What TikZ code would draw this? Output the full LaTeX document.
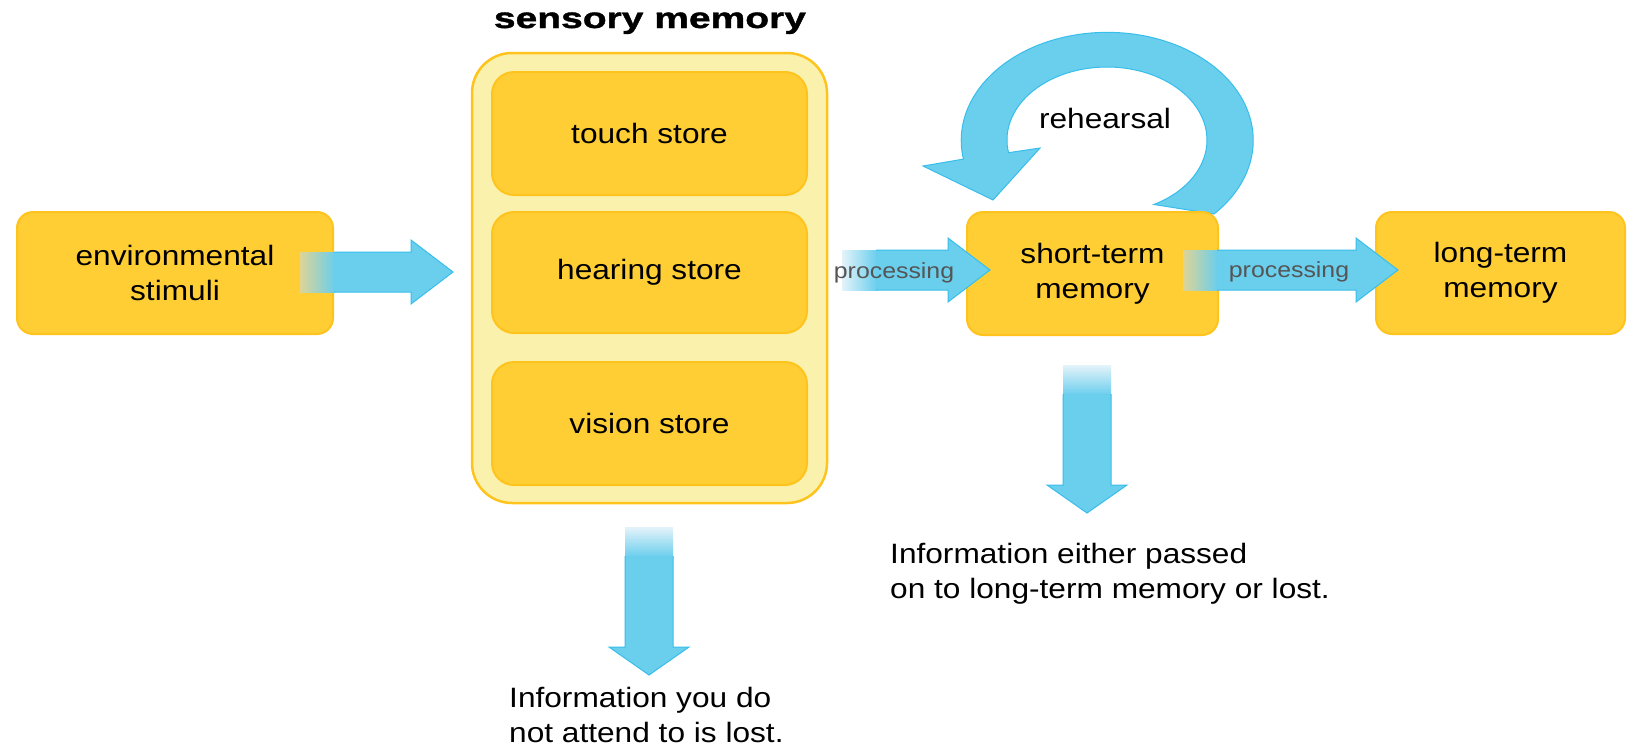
\documentclass[tikz,border=0pt]{standalone}
\usepackage{fontspec}
\setmainfont{Liberation Sans}[FakeStretch=1.13]
\newfontfamily\titlefont{Liberation Sans}[FakeStretch=1.13, FakeBold=1.2, BoldFont={* Bold}]
\usepackage{graphicx}
\usetikzlibrary{calc}
\definecolor{boxyellow}{RGB}{255,206,52}
\definecolor{boxedge}{RGB}{255,195,30}
\definecolor{paleyellow}{RGB}{250,242,172}
\definecolor{arrowblue}{RGB}{106,206,237}
\definecolor{arrowedge}{RGB}{55,190,235}
\definecolor{fadetan}{RGB}{222,212,150}
\definecolor{fadewhite}{RGB}{228,243,250}
\definecolor{labelgray}{RGB}{85,85,85}
\newcommand{\hblockarrow}[3]{%
  \shade[left color=#3, right color=arrowblue] ($(#1)+(0,-20)$) rectangle ($(#1)+(35,20)$);
  \filldraw[blockarrow] ($(#1)+(34,-20)$) -- ($(#2)+(-42,-20)$) -- ($(#2)+(-42,-32)$) -- (#2) -- ($(#2)+(-42,32)$) -- ($(#2)+(-42,20)$) -- ($(#1)+(34,20)$);
}
\newcommand{\vblockarrow}[3]{%
  \shade[top color=#3, bottom color=arrowblue] ($(#1)+(-24,0)$) rectangle ($(#1)+(24,30)$);
  \filldraw[blockarrow] ($(#1)+(-24,29)$) -- ($(#2)+(-24,-28)$) -- ($(#2)+(-40,-28)$) -- (#2) -- ($(#2)+(40,-28)$) -- ($(#2)+(24,-28)$) -- ($(#1)+(24,29)$);
}
\begin{document}
\begin{tikzpicture}[x=1pt,y=-1pt,
  box/.style={draw=boxedge, line width=2pt, fill=boxyellow, rounded corners=16pt, align=center, font=\fontsize{28}{35}\selectfont, inner sep=0pt},
  store/.style={box, rounded corners=22pt, minimum width=315pt},
  blockarrow/.style={fill=arrowblue, draw=arrowedge, line width=1pt, line join=miter},
  txt/.style={font=\fontsize{28}{35}\selectfont, align=left, inner sep=0pt},
  proc/.style={font=\fontsize{22}{26}\selectfont, text=labelgray, inner sep=0pt}
]
\useasboundingbox[fill=white] (0,0) rectangle (1635,745);

% boxes
\node[box, minimum width=316pt, minimum height=122pt] (env) at (175,273) {environmental\\stimuli};
\node[draw=boxedge, line width=2.5pt, fill=paleyellow, rounded corners=40pt, minimum width=355pt, minimum height=450pt, inner sep=0pt] (sens) at (649.5,278) {};
\node[anchor=base, font=\titlefont\bfseries\fontsize{29}{35}\selectfont, inner sep=0pt] (senstitle) at (650,28) {\scalebox{1.19}[1]{sensory memory}};
\node[store, minimum height=123pt] (touch) at (649.5,133.5) {touch store};
\node[store, minimum height=121pt] (hearing) at (649.5,272.5) {hearing store};
\node[store, minimum height=123pt] (vision) at (649.5,423.5) {vision store};

% rehearsal loop
\filldraw[blockarrow] (1214,214) arc[start angle=-43, end angle=190, x radius=146pt, y radius=108pt]
  -- (923,166) -- (993,200) -- (1040,148) -- (1008.5,152.7)
  arc[start angle=190, end angle=-62, x radius=100pt, y radius=73pt] -- cycle;
\node[txt, anchor=base] (reh) at (1105,128) {rehearsal};

\node[box, minimum width=251pt, minimum height=123pt] (stm) at (1092.5,273.5) {short-term\\memory};
\node[box, minimum width=249pt, minimum height=122pt] (ltm) at (1500.5,273) {long-term\\memory};

% arrow anchor points
\coordinate (a1s) at (300,272);
\coordinate (a1e) at (453,272);
\coordinate (a2s) at (842,270);
\coordinate (a2e) at (990,270);
\coordinate (a3s) at (1183,270);
\coordinate (a3e) at (1398,270);
\coordinate (d1s) at (649,527);
\coordinate (d1e) at (649,675);
\coordinate (d2s) at (1087,365);
\coordinate (d2e) at (1087,513);

\hblockarrow{a1s}{a1e}{fadetan}
\hblockarrow{a2s}{a2e}{fadewhite}
\hblockarrow{a3s}{a3e}{fadetan}
\vblockarrow{d1s}{d1e}{fadewhite}
\vblockarrow{d2s}{d2e}{fadewhite}

\node[proc, anchor=base] (p1) at (894,278) {processing};
\node[proc, anchor=base] (p2) at (1289,277) {processing};

\node[txt, anchor=north west] (lost1) at (509,686.7) {Information you do\\not attend to is lost.};
\node[txt, anchor=north west] (lost2) at (890,542.7) {Information either passed\\on to long-term memory or lost.};
\end{tikzpicture}
\end{document}
